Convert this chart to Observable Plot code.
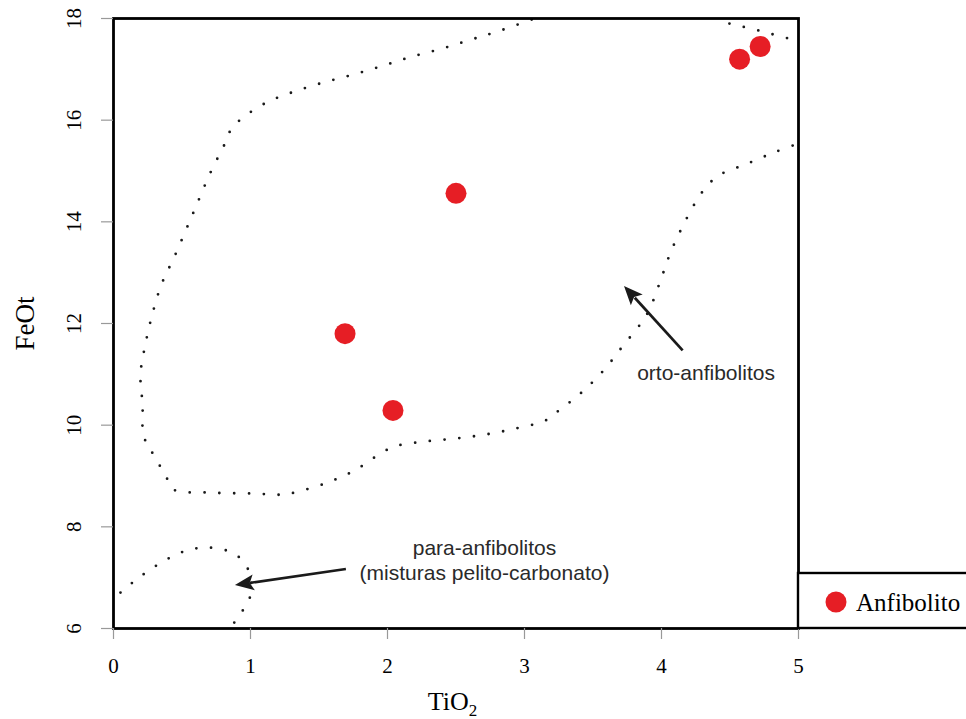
<!DOCTYPE html>
<html><head><meta charset="utf-8">
<script src="https://cdn.jsdelivr.net/npm/d3@7"></script>
<script src="https://cdn.jsdelivr.net/npm/@observablehq/plot@0.6"></script>
<style>body{margin:0;background:#fff} svg{display:block}</style>
</head><body><div id="chart"></div>
<script>
const xTicks = [0, 1, 2, 3, 4, 5];
const yTicks = [6, 8, 10, 12, 14, 16, 18];
const seriesName = "Anfibolito";
const tio2 = [4.57, 4.72, 2.50, 1.69, 2.04];
const feot = [17.20, 17.45, 14.56, 11.80, 10.29];

// field boundaries [TiO2, FeOt]
const ortoMain = [
  [3.153,18.079],[2.825,17.764],[2.613,17.587],[2.401,17.410],[2.182,17.252],[1.971,17.075],
  [1.752,16.898],[1.533,16.741],[1.321,16.564],[1.117,16.347],[0.927,16.013],[0.854,15.797],
  [0.810,15.521],[0.708,14.970],[0.577,14.144],[0.445,13.318],[0.350,12.767],[0.285,12.196],
  [0.234,11.606],[0.197,10.996],[0.212,10.406],[0.219,9.796],[0.270,9.521],[0.380,9.009],
  [0.438,8.734],[0.679,8.675],[1.015,8.655],[1.241,8.635],[1.350,8.694],[1.562,8.871],
  [1.759,9.108],[1.949,9.442],[2.051,9.580],[2.270,9.678],[2.496,9.737],[2.715,9.816],
  [2.934,9.934],[3.153,10.091],[3.241,10.268],[3.416,10.642],[3.577,11.075],[3.715,11.547],
  [3.854,12.019],[3.912,12.275],[3.993,12.846],[4.066,13.396],[4.161,13.947],[4.270,14.479],
  [4.336,14.715],[4.416,14.911],[4.628,15.147],[4.839,15.383],[5.0,15.541]
];
const ortoTop = [[4.496,17.90],[4.708,17.764],[4.927,17.607],[5.0,17.567]];
const paraField = [
  [0.051,6.707],[0.139,6.904],[0.314,7.239],[0.511,7.514],[0.679,7.593],[0.847,7.514],
  [0.934,7.357],[1.0,7.042],[1.0,6.747],[0.985,6.511],[0.920,6.275],[0.854,6.0]
];
const fieldLabels = [
  {text: "orto-anfibolitos", x: 4.325, y: 11.05},
  {text: "para-anfibolitos\n(misturas pelito-carbonato)", x: 2.708, y: 7.36}
];
const arrows = [
  {x1: 4.158, y1: 11.46, x2: 3.73, y2: 12.73},
  {x1: 1.70, y1: 7.16, x2: 0.89, y2: 6.845}
];

const points = tio2.map((x, i) => ({x, y: feot[i], s: seriesName}));
const serif = "'Liberation Serif', 'Times New Roman', serif";
const sans = "'Liberation Sans', Arial, sans-serif";
const dotted = {x: d => d[0], y: d => d[1], stroke: "#1a1a1a", strokeWidth: 2.8,
  strokeDasharray: "0 14.8", strokeLinecap: "round", curve: "catmull-rom", clip: true};

const W = 966, H = 719, mL = 113, mT = 18, mR = 168, mB = 91;

function arrowMark(index, {x, y}) {
  const g = d3.create("svg:g");
  for (const a of arrows) {
    const x1 = x(a.x1), y1 = y(a.y1), x2 = x(a.x2), y2 = y(a.y2);
    const ang = Math.atan2(y2 - y1, x2 - x1);
    const L = 19, Wd = 8;
    const bx = x2 - L * Math.cos(ang), by = y2 - L * Math.sin(ang);
    g.append("line").attr("x1", x1).attr("y1", y1).attr("x2", bx + 3 * Math.cos(ang)).attr("y2", by + 3 * Math.sin(ang))
      .attr("stroke", "#1a1a1a").attr("stroke-width", 2.7);
    const px = -Math.sin(ang), py = Math.cos(ang);
    g.append("path").attr("d", `M${x2},${y2}L${bx + Wd * px},${by + Wd * py}L${bx + 4 * Math.cos(ang)},${by + 4 * Math.sin(ang)}L${bx - Wd * px},${by - Wd * py}Z`)
      .attr("fill", "#1a1a1a");
  }
  return g.node();
}

function extrasMark(index, {x, y}, values, dims) {
  const g = d3.create("svg:g");
  const bottom = dims.height - dims.marginBottom;
  // legend box
  const lx = x(5);
  g.append("rect").attr("x", lx).attr("y", bottom - 55).attr("width", dims.width - lx + 10).attr("height", 55)
    .attr("fill", "white").attr("stroke", "black").attr("stroke-width", 2.4);
  g.append("circle").attr("cx", lx + 38).attr("cy", bottom - 26).attr("r", 10.5).attr("fill", "#e61e25");
  g.append("text").attr("x", lx + 58).attr("y", bottom - 17).attr("text-anchor", "start")
    .attr("font-family", serif).attr("font-size", 25).attr("fill", "black").text(seriesName);
  // x axis label with subscript
  const t = g.append("text").attr("x", (dims.marginLeft + dims.width - dims.marginRight) / 2 - 3)
    .attr("y", bottom + 82).attr("text-anchor", "middle").attr("font-family", serif).attr("font-size", 26).attr("fill", "black");
  t.append("tspan").text("TiO");
  t.append("tspan").attr("font-size", 17).attr("dy", 6).text("2");
  return g.node();
}

const plot = Plot.plot({
  width: W, height: H,
  marginLeft: mL, marginTop: mT, marginRight: mR, marginBottom: mB,
  style: {background: "white", overflow: "visible"},
  x: {domain: [0, 5]},
  y: {domain: [6, 18]},
  marks: [
    Plot.line(ortoMain, dotted),
    Plot.line(ortoTop, dotted),
    Plot.line(paraField, dotted),
    arrowMark,
    Plot.text(fieldLabels, {x: "x", y: "y", text: "text", fontFamily: sans, fontSize: 21, fill: "#2a2a2a", lineHeight: 1.19}),
    Plot.dot(points, {x: "x", y: "y", r: 10.5, fill: "#e61e25"}),
    Plot.frame({stroke: "black", strokeWidth: 2.8}),
    Plot.axisX(xTicks, {tickSize: 11, stroke: "#999", strokeWidth: 1.2, tickFormat: () => "", label: null}),
    Plot.axisY(yTicks, {tickSize: 12, stroke: "#999", strokeWidth: 1.2, tickFormat: () => "", label: null}),
    Plot.text(xTicks, {x: d => d, frameAnchor: "bottom", dy: 44, lineAnchor: "bottom", fontFamily: serif, fontSize: 21, fill: "black"}),
    Plot.text(yTicks, {y: d => d, frameAnchor: "left", dx: -33, rotate: -90, lineAnchor: "bottom", textAnchor: "middle", fontFamily: serif, fontSize: 21, fill: "black"}),
    Plot.text(["FeOt"], {y: 12, frameAnchor: "left", dx: -80, rotate: -90, lineAnchor: "bottom", textAnchor: "middle", fontFamily: serif, fontSize: 27, fill: "black"}),
    extrasMark
  ]
});
document.getElementById("chart").appendChild(plot);
</script>
</body></html>
